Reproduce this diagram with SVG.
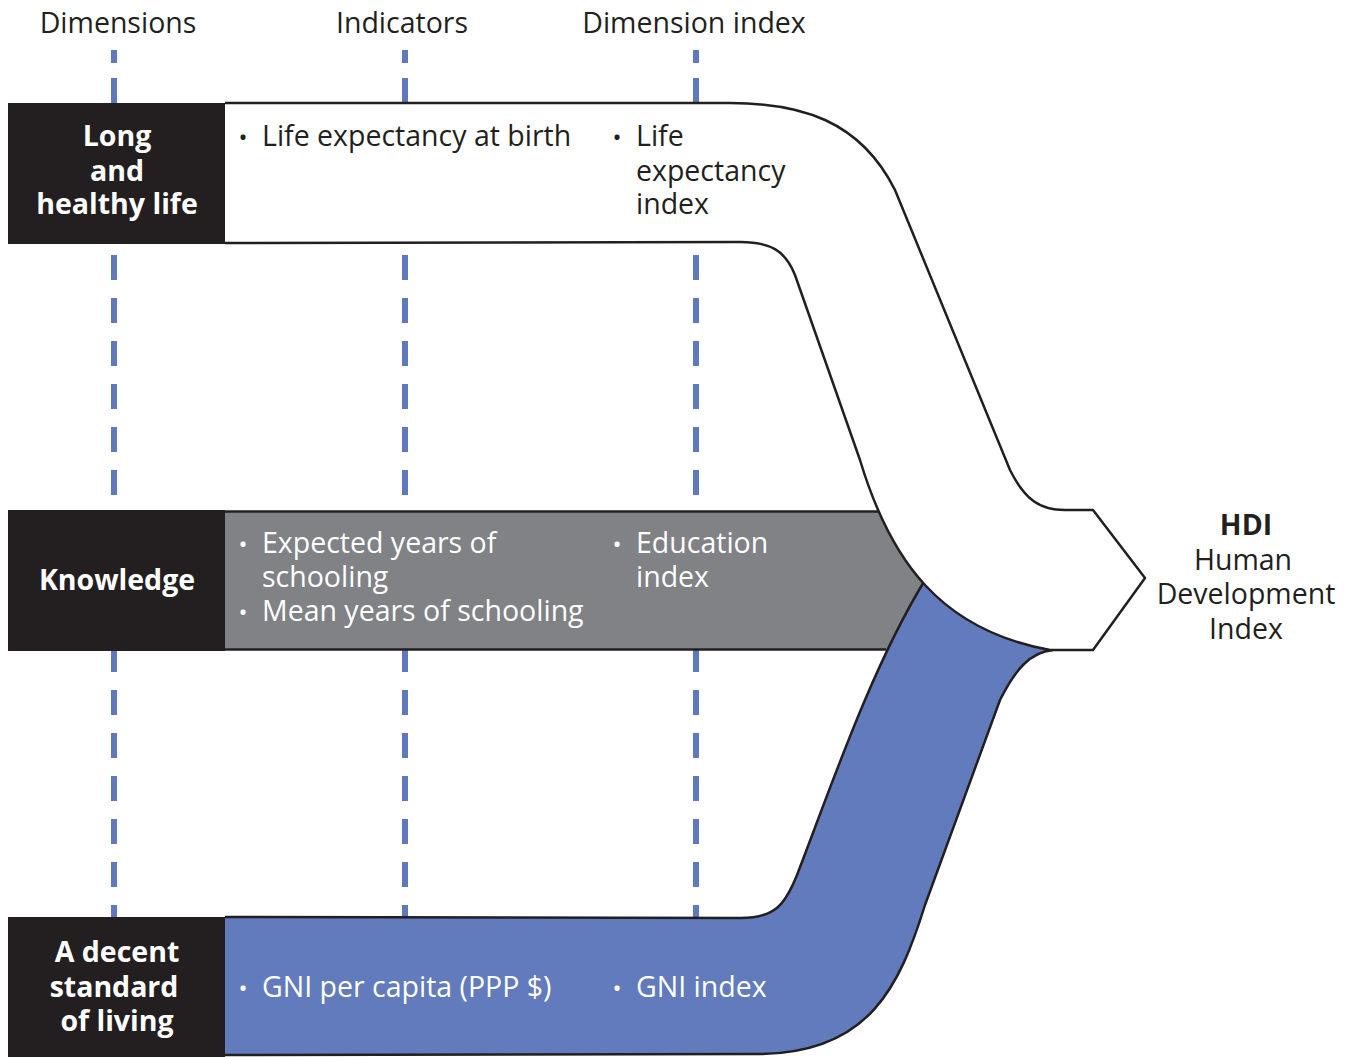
<svg xmlns="http://www.w3.org/2000/svg" width="1357" height="1057" viewBox="0 0 1357 1057">
<style>
.dash{stroke:#6079bd;stroke-width:6;fill:none}
.dm{stroke-dasharray:25 18}
.edge{stroke:#231f20;stroke-width:2.5;fill:none;stroke-linejoin:round}
.wfill{fill:#fff;stroke:#231f20;stroke-width:2.5;stroke-linejoin:round}
.box{fill:#231f20}
.hd{font-family:"Open Sans",sans-serif;font-size:28.5px;fill:#231f20}
.bx{font-family:"Open Sans",sans-serif;font-size:28.5px;font-weight:bold;fill:#fff;text-anchor:middle}
.t{font-family:"Open Sans",sans-serif;font-size:28.5px}
.b{font-size:24px;text-anchor:middle}
.dk{fill:#231f20}
.wt{fill:#fff}
</style>
<rect width="1357" height="1057" fill="#fff"/>
<g id="guides">
<g id="guide-dimensions">
<line class="dash" x1="114" y1="50" x2="114" y2="63"/><line class="dash" x1="114" y1="78" x2="114" y2="103"/>
<line class="dash dm" x1="114" y1="255" x2="114" y2="500"/>
<line class="dash dm" x1="114" y1="647" x2="114" y2="917"/>
</g>
<g id="guide-indicators">
<line class="dash" x1="405" y1="50" x2="405" y2="63"/><line class="dash" x1="405" y1="78" x2="405" y2="103"/>
<line class="dash dm" x1="405" y1="255" x2="405" y2="500"/>
<line class="dash dm" x1="405" y1="647" x2="405" y2="917"/>
</g>
<g id="guide-index">
<line class="dash" x1="696" y1="50" x2="696" y2="63"/><line class="dash" x1="696" y1="78" x2="696" y2="103"/>
<line class="dash dm" x1="696" y1="255" x2="696" y2="500"/>
<line class="dash dm" x1="696" y1="647" x2="696" y2="917"/>
</g>
</g>
<g id="headers">
<text class="hd" x="118" y="33" text-anchor="middle">Dimensions</text>
<text class="hd" x="402" y="33" text-anchor="middle">Indicators</text>
<text class="hd" x="694" y="33" text-anchor="middle">Dimension index</text>
</g>
<g id="connectors">
<g id="band-knowledge">
<path d="M225,511 L895,511 L935,580 L895,650 L225,650 Z" fill="#808285"/>
<line class="edge" x1="225" y1="511.5" x2="890" y2="511.5"/>
<line class="edge" x1="225" y1="649.5" x2="886" y2="649.5"/>
</g>
<g id="band-living">
<path d="M225,917 L740,918 C775,918 785,905 797,875 C830,790 870,670 925,580 L950,575 L1060,640 L1053,650 C1030,652 1015,670 1000,700 L925,905 C900,985 870,1053 760,1054 L225,1055 Z" fill="#627bbd"/>
<path class="edge" d="M225,917 L740,918 C775,918 785,905 797,875 C830,790 870,670 925,580"/>
<path class="edge" d="M1053,650 C1030,652 1015,670 1000,700 L925,905 C900,985 870,1053 760,1054 L225,1055"/>
</g>
<g id="band-health">
<path class="wfill" d="M225,103 L730,103 C800,103 860,120 895,190 L1010,470 C1025,500 1040,510 1065,510 L1093,510 L1145,578 L1093,650 L1050,650 C940,630 890,560 860,460 L795,275 C785,250 770,242 740,242 L225,243"/>
</g>
</g>
<g id="node-health">
<rect class="box" x="8" y="103" width="217" height="141"/>
<text class="bx" x="117" y="146">Long</text>
<text class="bx" x="117" y="181">and</text>
<text class="bx" x="117" y="214">healthy life</text>
<text class="t dk" y="146"><tspan class="b" x="243">•</tspan><tspan x="262">Life expectancy at birth</tspan></text>
<text class="t dk" y="146"><tspan class="b" x="617">•</tspan><tspan x="636">Life</tspan></text>
<text class="t dk" x="636" y="181">expectancy</text>
<text class="t dk" x="636" y="214">index</text>
</g>
<g id="node-knowledge">
<rect class="box" x="8" y="510" width="217" height="141"/>
<text class="bx" x="117" y="590">Knowledge</text>
<text class="t wt" y="553"><tspan class="b" x="243">•</tspan><tspan x="262">Expected years of</tspan></text>
<text class="t wt" x="262" y="587">schooling</text>
<text class="t wt" y="621"><tspan class="b" x="243">•</tspan><tspan x="262">Mean years of schooling</tspan></text>
<text class="t wt" y="553"><tspan class="b" x="617">•</tspan><tspan x="636">Education</tspan></text>
<text class="t wt" x="636" y="587">index</text>
</g>
<g id="node-living">
<rect class="box" x="8" y="917" width="217" height="140"/>
<text class="bx" x="117" y="962">A decent</text>
<text class="bx" x="114" y="997">standard</text>
<text class="bx" x="117" y="1031">of living</text>
<text class="t wt" y="997"><tspan class="b" x="243">•</tspan><tspan x="262">GNI per capita (PPP $)</tspan></text>
<text class="t wt" y="997"><tspan class="b" x="617">•</tspan><tspan x="636">GNI index</tspan></text>
</g>
<g id="node-hdi">
<text class="hd" x="1246" y="535" text-anchor="middle" font-weight="bold">HDI</text>
<text class="hd" x="1243" y="570" text-anchor="middle">Human</text>
<text class="hd" x="1246" y="604" text-anchor="middle">Development</text>
<text class="hd" x="1246" y="639" text-anchor="middle">Index</text>
</g>
</svg>
